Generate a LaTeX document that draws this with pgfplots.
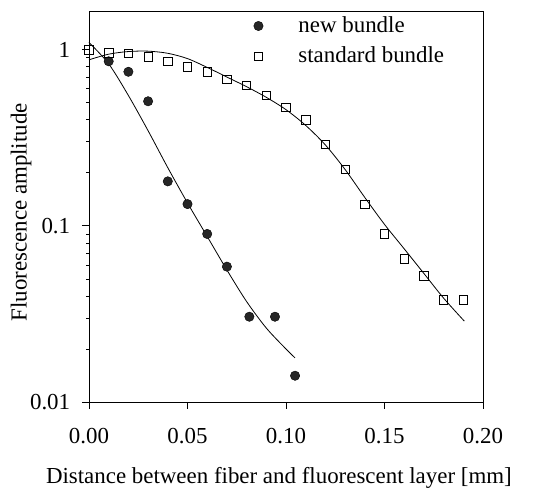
\documentclass[border=0pt]{standalone}
\usepackage{pgfplots}
\pgfplotsset{compat=1.18}
\usepackage{fontspec}
\setmainfont{Liberation Serif}
\pgfplotsset{mylegimg/.style={legend image code/.code={\draw[##1] plot coordinates {(0.3cm,0cm)}; \path[draw=none,fill=none] (0cm,0cm) -- (1.64cm,0cm);}}}
\begin{document}
\fontsize{23}{27}\selectfont
\begin{tikzpicture}
\begin{axis}[
  scale only axis,
  width=394bp, height=391bp,
  xmin=0, xmax=0.2,
  ymode=log, ymin=0.01, ymax=1.66,
  xtick={0,0.05,0.1,0.15,0.2},
  xticklabels={0.00,0.05,0.10,0.15,0.20},
  ytick={0.01,0.1,1},
  yticklabels={0.01,0.1,1},
  tick align=outside,
  major tick length=7bp,
  minor tick num=0,
  tick pos=left,
  axis line style={line width=0.8pt},
  every tick/.style={black,line width=0.8pt},
  xlabel={Distance between fiber and fluorescent layer [mm]},
  ylabel={Fluorescence amplitude},
  every axis x label/.style={at={(axis description cs:0.482,-0.195)}, anchor=center},
  every axis y label/.style={at={(axis description cs:-0.172,0.485)}, anchor=center, rotate=90},
  label style={font=\fontsize{23}{27}\selectfont},
  tick label style={font=\fontsize{23}{27}\selectfont},
  xticklabel style={yshift=-11bp},
  yticklabel style={xshift=-4bp},
  mylegimg,
  legend style={draw=none, fill=none, at={(rel axis cs:0.408,0.992)}, anchor=north west,
    font=\fontsize{23}{27}\selectfont, row sep=7bp, legend cell align=left,
    inner sep=0pt},
  clip=false,
]
\addplot[only marks, mark=*, mark size=4.7bp, mark options={fill=black!85, draw=black}]
coordinates {
(0.01,0.86) (0.02,0.75) (0.03,0.51) (0.04,0.179) (0.05,0.133) (0.06,0.090)
(0.07,0.0587) (0.0814,0.0305) (0.0944,0.0305) (0.1046,0.0141)
};
\addlegendentry{new bundle}
\addplot[only marks, mark=square, mark size=4.2bp, mark options={fill=white, draw=black, line width=0.8pt}]
coordinates {
(0,1.0) (0.01,0.96) (0.02,0.95) (0.03,0.91) (0.04,0.86) (0.05,0.80) (0.06,0.75)
(0.07,0.68) (0.08,0.63) (0.09,0.55) (0.10,0.47) (0.11,0.40) (0.12,0.29)
(0.13,0.209) (0.14,0.132) (0.15,0.090) (0.16,0.065) (0.17,0.052) (0.18,0.038) (0.19,0.038)
};
\addlegendentry{standard bundle}
\addplot[smooth, black, line width=0.8pt, forget plot] coordinates {
(0,1.10) (0.01,0.832) (0.02,0.550) (0.03,0.347) (0.04,0.214) (0.05,0.135)
(0.06,0.0871) (0.07,0.0562) (0.08,0.0372) (0.09,0.0263) (0.10,0.0200) (0.1046,0.0178)
};
\addplot[smooth, black, line width=0.8pt, forget plot] coordinates {
(0,0.877) (0.01,0.944) (0.02,0.977) (0.03,0.982) (0.04,0.955) (0.05,0.891)
(0.06,0.794) (0.07,0.700) (0.08,0.617) (0.09,0.537) (0.10,0.457) (0.11,0.372)
(0.12,0.288) (0.13,0.209) (0.14,0.145) (0.15,0.102) (0.16,0.0741) (0.17,0.0537)
(0.18,0.0389) (0.1905,0.0288)
};
\end{axis}
\path (current axis.south west) ++(-89bp,-83bp) rectangle ([shift={(51bp,11bp)}]current axis.north east);
\end{tikzpicture}
\end{document}
